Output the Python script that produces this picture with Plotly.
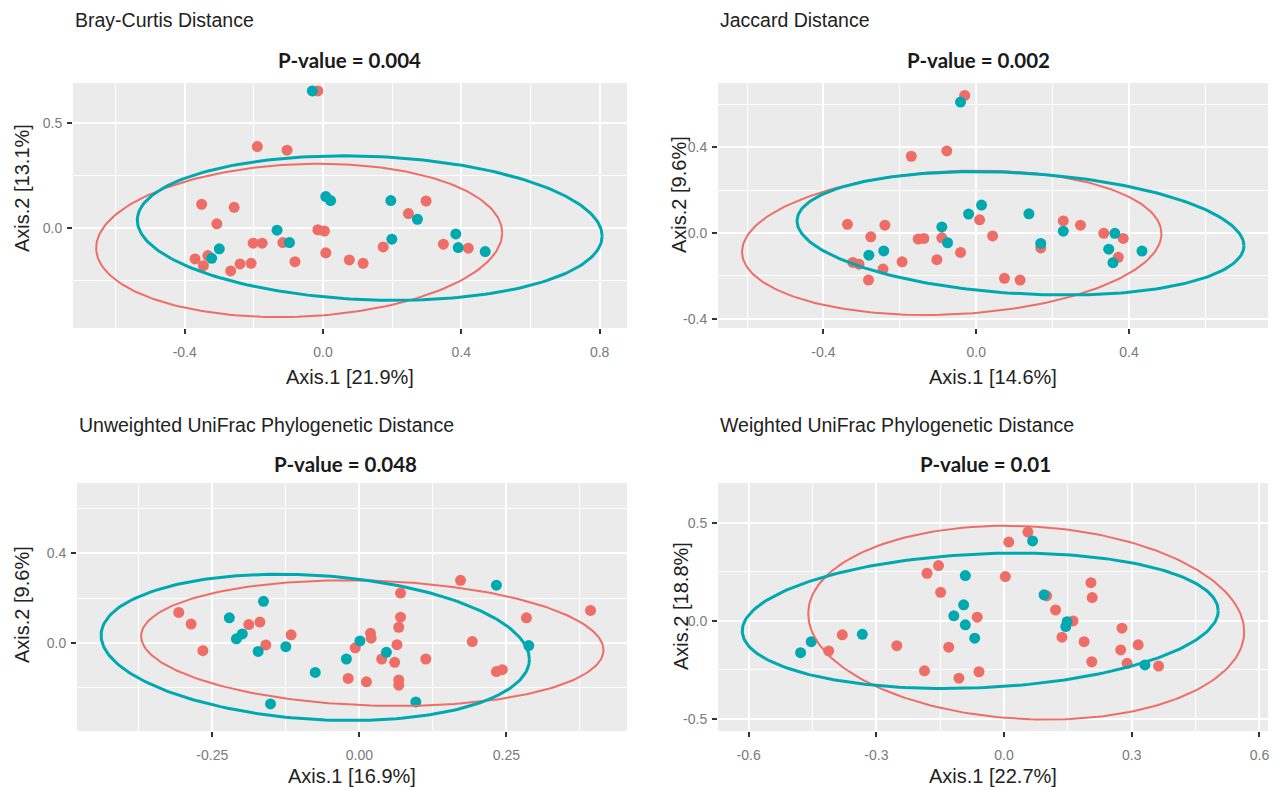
import numpy as np
import plotly.graph_objects as go

W, H = 1279, 790          # browser window
OFF = 8                   # default page margin around the plot div
FW, FH = W - OFF, H - OFF
RED = "#EF6D67"
TEAL = "#00A9B0"

# ---------------- Data ----------------
# Panel 1: Bray-Curtis
bc_red_x = [-0.015, -0.190, -0.104, -0.351, -0.257, -0.307, -0.015, 0.004, -0.202, -0.176,
            -0.116, -0.370, -0.333, -0.346, -0.267, -0.240, -0.208, -0.081, 0.008, 0.076,
            0.116, 0.174, 0.247, 0.298, 0.348, 0.420]
bc_red_y = [0.651, 0.386, 0.369, 0.111, 0.097, 0.018, -0.010, -0.016, -0.074, -0.074,
            -0.071, -0.149, -0.133, -0.181, -0.206, -0.173, -0.170, -0.162, -0.120, -0.154,
            -0.170, -0.092, 0.067, 0.127, -0.079, -0.098]
bc_teal_x = [-0.031, 0.008, 0.022, -0.133, -0.300, -0.097, -0.322, 0.196, 0.273, 0.199,
             0.384, 0.391, 0.469]
bc_teal_y = [0.651, 0.148, 0.129, -0.012, -0.101, -0.071, -0.146, 0.129, 0.040, -0.055,
             -0.030, -0.095, -0.114]
# ellipse: centre x, centre y, half-width, half-height, skew
bc_ell_red = [-0.069, -0.061, 0.587, 0.365, 0.036]
bc_ell_teal = [0.135, -0.002, 0.672, 0.344, -0.038]

# Panel 2: Jaccard
jc_red_x = [-0.030, -0.170, -0.077, 0.009, -0.337, -0.239, -0.276, -0.152, -0.137, -0.090,
            -0.041, -0.323, -0.307, -0.194, -0.103, -0.244, -0.282, 0.043, 0.169, 0.228,
            0.273, 0.334, 0.385, 0.372, 0.074, 0.115]
jc_red_y = [0.643, 0.359, 0.384, 0.062, 0.041, 0.037, -0.017, -0.028, -0.025, -0.022,
            -0.090, -0.137, -0.145, -0.134, -0.124, -0.168, -0.219, -0.013, -0.069, 0.057,
            0.037, -0.001, -0.025, -0.113, -0.211, -0.219]
jc_teal_x = [-0.041, 0.014, -0.020, -0.090, -0.075, -0.281, -0.242, 0.138, 0.169, 0.228,
             0.363, 0.347, 0.358, 0.434]
jc_teal_y = [0.612, 0.131, 0.089, 0.029, -0.045, -0.103, -0.083, 0.090, -0.048, 0.009,
             -0.001, -0.075, -0.138, -0.084]
jc_ell_red = [-0.064, -0.045, 0.549, 0.337, 0.042]
jc_ell_teal = [0.116, -0.001, 0.585, 0.288, -0.058]

# Panel 3: Unweighted UniFrac
uu_red_x = [-0.307, -0.286, -0.266, -0.188, -0.169, -0.159, -0.116, -0.019, -0.007, 0.012,
            0.019, 0.020, 0.038, 0.060, 0.064, 0.067, 0.070, 0.070, 0.067, 0.067,
            0.113, 0.192, 0.172, 0.284, 0.233, 0.243, 0.393]
uu_red_y = [0.136, 0.084, -0.035, 0.082, 0.093, -0.009, 0.036, -0.159, -0.022, -0.174,
            0.043, 0.021, -0.072, -0.087, -0.008, 0.070, 0.115, 0.223, -0.166, -0.189,
            -0.072, 0.006, 0.280, 0.112, -0.128, -0.120, 0.145]
uu_teal_x = [-0.221, -0.209, -0.199, -0.163, -0.172, -0.125, -0.075, -0.151, -0.022, 0.001,
             0.046, 0.096, 0.233, 0.288]
uu_teal_y = [0.112, 0.018, 0.040, 0.186, -0.038, -0.017, -0.132, -0.273, -0.072, 0.009,
             -0.042, -0.264, 0.258, -0.012]
uu_ell_red = [0.022, -0.001, 0.393, 0.281, -0.031]
uu_ell_teal = [-0.075, -0.020, 0.364, 0.327, -0.054]

# Panel 4: Weighted UniFrac
wu_red_x = [-0.412, -0.380, -0.252, -0.181, -0.154, -0.149, -0.063, -0.130, -0.187, -0.106,
            -0.059, 0.056, 0.011, 0.003, 0.100, 0.121, 0.162, 0.136, 0.204, 0.207,
            0.188, 0.206, 0.277, 0.274, 0.315, 0.289, 0.363]
wu_red_y = [-0.153, -0.071, -0.126, 0.243, 0.282, 0.146, 0.019, -0.134, -0.254, -0.292,
            -0.259, 0.453, 0.402, 0.226, 0.128, 0.056, 0.000, -0.083, 0.195, 0.119,
            -0.106, -0.208, -0.037, -0.148, -0.122, -0.216, -0.230]
wu_teal_x = [-0.478, -0.453, -0.333, -0.091, -0.095, -0.118, -0.091, -0.069, 0.067, 0.094,
             0.145, 0.148, 0.331]
wu_teal_y = [-0.162, -0.106, -0.068, 0.231, 0.082, 0.026, -0.020, -0.088, 0.408, 0.133,
             -0.029, -0.004, -0.224]
wu_ell_red = [0.052, -0.009, 0.512, 0.494, -0.046]
wu_ell_teal = [-0.056, 0.0005, 0.559, 0.345, 0.051]

titles = ["Bray-Curtis Distance", "Jaccard Distance",
          "Unweighted UniFrac Phylogenetic Distance", "Weighted UniFrac Phylogenetic Distance"]
pvalues = ["P-value = 0.004", "P-value = 0.002", "P-value = 0.048", "P-value = 0.01"]
x_titles = ["Axis.1 [21.9%]", "Axis.1 [14.6%]", "Axis.1 [16.9%]", "Axis.1 [22.7%]"]
y_titles = ["Axis.2 [13.1%]", "Axis.2 [9.6%]", "Axis.2 [9.6%]", "Axis.2 [18.8%]"]

x_ticks = [[-0.4, 0.0, 0.4, 0.8], [-0.4, 0.0, 0.4], [-0.25, 0.0, 0.25], [-0.6, -0.3, 0.0, 0.3, 0.6]]
x_ticktext = [["-0.4", "0.0", "0.4", "0.8"], ["-0.4", "0.0", "0.4"], ["-0.25", "0.00", "0.25"],
              ["-0.6", "-0.3", "0.0", "0.3", "0.6"]]
x_minor = [[-0.6, -0.2, 0.2, 0.6], [-0.6, -0.2, 0.2, 0.6], [-0.375, -0.125, 0.125, 0.375],
           [-0.45, -0.15, 0.15, 0.45]]
y_ticks = [[0.0, 0.5], [-0.4, 0.0, 0.4], [-0.4, 0.0, 0.4], [-0.5, 0.0, 0.5]]
y_ticktext = [["0.0", "0.5"], ["-0.4", "0.0", "0.4"], ["-0.4", "0.0", "0.4"], ["-0.5", "0.0", "0.5"]]
y_minor = [[-0.25, 0.25], [-0.2, 0.2, 0.6], [-0.2, 0.2, 0.6], [-0.25, 0.25]]
x_ranges = [[-0.723, 0.879], [-0.676, 0.764], [-0.480, 0.455], [-0.672, 0.620]]
y_ranges = [[-0.478, 0.689], [-0.443, 0.701], [-0.394, 0.715], [-0.561, 0.703]]

panels = [
    (bc_red_x, bc_red_y, bc_teal_x, bc_teal_y, bc_ell_red, bc_ell_teal),
    (jc_red_x, jc_red_y, jc_teal_x, jc_teal_y, jc_ell_red, jc_ell_teal),
    (uu_red_x, uu_red_y, uu_teal_x, uu_teal_y, uu_ell_red, uu_ell_teal),
    (wu_red_x, wu_red_y, wu_teal_x, wu_teal_y, wu_ell_red, wu_ell_teal),
]

# ---------------- Layout (window pixel boxes) ----------------
boxes = [(73, 83, 627, 328), (718, 83, 1268, 328), (77, 483, 627, 731), (718, 483, 1268, 731)]
title_pos = [(73, 20), (718, 20), (77, 425), (718, 425)]
pval_pos = [(349, 60), (978, 60), (345, 464), (985, 464)]
xtitle_pos = [(350, 377), (993, 377), (352, 776), (993, 776)]
ytitle_pos = [(22, 188), (679, 195), (22, 605), (681, 606)]


def ellipse(p):
    cx, cy, rx, ry, k = p
    t = np.linspace(0, 2 * np.pi, 240)
    h = np.sqrt(ry ** 2 - k ** 2)
    return cx + rx * np.cos(t), cy + k * np.cos(t) + h * np.sin(t)


def px(x):
    return (x - OFF) / FW


def py(y):
    return 1 - (y - OFF) / FH


fig = go.Figure()
annotations = []
for i, (rx_, ry_, tx_, ty_, er, et) in enumerate(panels):
    n = "" if i == 0 else str(i + 1)
    xa, ya = "x" + n, "y" + n
    fig.add_trace(go.Scatter(x=rx_, y=ry_, mode="markers", xaxis=xa, yaxis=ya,
                             marker=dict(color=RED, size=11), showlegend=False, hoverinfo="skip"))
    fig.add_trace(go.Scatter(x=tx_, y=ty_, mode="markers", xaxis=xa, yaxis=ya,
                             marker=dict(color=TEAL, size=11), showlegend=False, hoverinfo="skip"))
    ex, ey = ellipse(er)
    fig.add_trace(go.Scatter(x=ex, y=ey, mode="lines", xaxis=xa, yaxis=ya,
                             line=dict(color=RED, width=2), showlegend=False, hoverinfo="skip"))
    ex, ey = ellipse(et)
    fig.add_trace(go.Scatter(x=ex, y=ey, mode="lines", xaxis=xa, yaxis=ya,
                             line=dict(color=TEAL, width=3), showlegend=False, hoverinfo="skip"))

    x0, y0, x1, y1 = boxes[i]
    common = dict(showgrid=True, gridcolor="white", gridwidth=2, zeroline=False,
                  ticks="outside", ticklen=5, tickwidth=1.5, tickcolor="#333333",
                  tickfont=dict(family="Liberation Sans, Arial", size=14, color="#7a7a7a"),
                  showline=False, fixedrange=True)
    fig.layout["xaxis" + n] = dict(
        domain=[px(x0), px(x1)], range=x_ranges[i], anchor=ya,
        tickmode="array", tickvals=x_ticks[i], ticktext=x_ticktext[i],
        minor=dict(tickvals=x_minor[i], showgrid=True, gridcolor="white", gridwidth=1, ticks=""),
        ticklabelstandoff=6, **common)
    fig.layout["yaxis" + n] = dict(
        domain=[py(y1), py(y0)], range=y_ranges[i], anchor=xa,
        tickmode="array", tickvals=y_ticks[i], ticktext=y_ticktext[i],
        minor=dict(tickvals=y_minor[i], showgrid=True, gridcolor="white", gridwidth=1, ticks=""),
        ticklabelstandoff=2, **common)

    annotations.append(dict(text=titles[i], x=px(title_pos[i][0]), y=py(title_pos[i][1]),
                            xref="paper", yref="paper", xanchor="left", yanchor="middle",
                            showarrow=False,
                            font=dict(family="Liberation Sans, Arial", size=19.5, color="#222222")))
    annotations.append(dict(text=pvalues[i], x=px(pval_pos[i][0]), y=py(pval_pos[i][1]),
                            xref="paper", yref="paper", xanchor="center", yanchor="middle",
                            showarrow=False,
                            font=dict(family="Lato, Open Sans", size=20.5, color="#1a1a1a", weight="bold")))
    annotations.append(dict(text=x_titles[i], x=px(xtitle_pos[i][0]), y=py(xtitle_pos[i][1]),
                            xref="paper", yref="paper", xanchor="center", yanchor="middle",
                            showarrow=False,
                            font=dict(family="Liberation Sans, Arial", size=20, color="#222222")))
    annotations.append(dict(text=y_titles[i], x=px(ytitle_pos[i][0]), y=py(ytitle_pos[i][1]),
                            xref="paper", yref="paper", xanchor="center", yanchor="middle",
                            textangle=-90, showarrow=False,
                            font=dict(family="Liberation Sans, Arial", size=20, color="#222222")))

fig.update_layout(width=FW, height=FH, margin=dict(l=0, r=0, t=0, b=0),
                  paper_bgcolor="white", plot_bgcolor="#EBEBEB",
                  annotations=annotations, showlegend=False)

fig.write_html("out.html")
